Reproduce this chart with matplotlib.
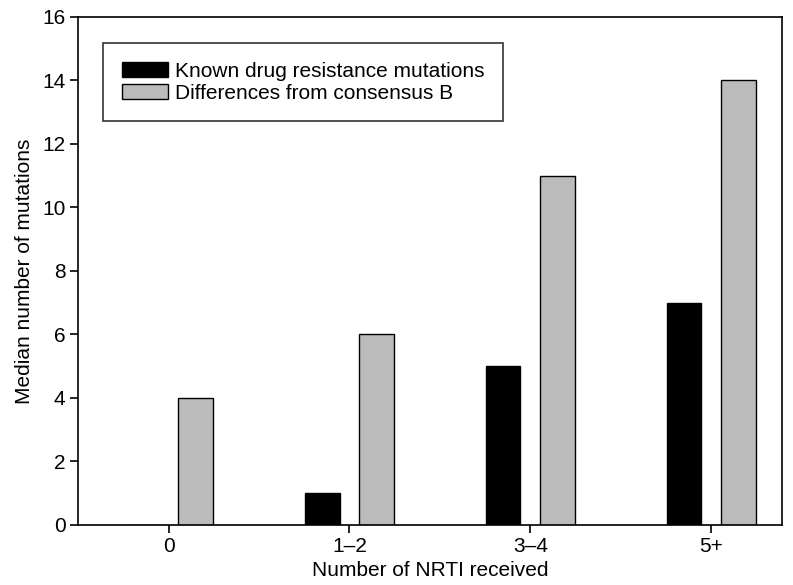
import matplotlib.pyplot as plt
import numpy as np

categories = ['0', '1–2', '3–4', '5+']
known = [0, 1, 5, 7]
consensus = [4, 6, 11, 14]

plt.rcParams['font.family'] = ['Liberation Sans', 'DejaVu Sans']

fig = plt.figure(figsize=(7.93, 5.85), dpi=100)
ax = fig.add_axes([0.0984, 0.1026, 0.8877, 0.8684])

x = np.arange(len(categories))
w = 0.19
ax.bar(x - 0.15, known, w, color='black', edgecolor='black', linewidth=1,
       label='Known drug resistance mutations')
ax.bar(x + 0.15, consensus, w, color='#bbbbbb', edgecolor='black', linewidth=1,
       label='Differences from consensus B')

ax.set_xlim(-0.5, 3.39)
ax.set_ylim(0, 16)
ax.set_yticks(range(0, 17, 2))
ax.set_xticks(x)
ax.set_xticklabels(categories)
ax.tick_params(direction='out', length=6, width=1.2, labelsize=15, pad=3)
for s in ax.spines.values():
    s.set_linewidth(1.2)

ax.set_xlabel('Number of NRTI received', fontsize=15, labelpad=3)
ax.set_ylabel('Median number of mutations', fontsize=15, labelpad=6)

leg = ax.legend(loc='upper left', bbox_to_anchor=(0.0355, 0.949), fontsize=15,
                frameon=True, fancybox=False, edgecolor='black',
                handlelength=2.2, handleheight=0.7, handletextpad=0.35,
                borderpad=0.9, labelspacing=0.15, borderaxespad=0)
leg.get_frame().set_linewidth(1.2)

fig.savefig('out.png', dpi=100)
